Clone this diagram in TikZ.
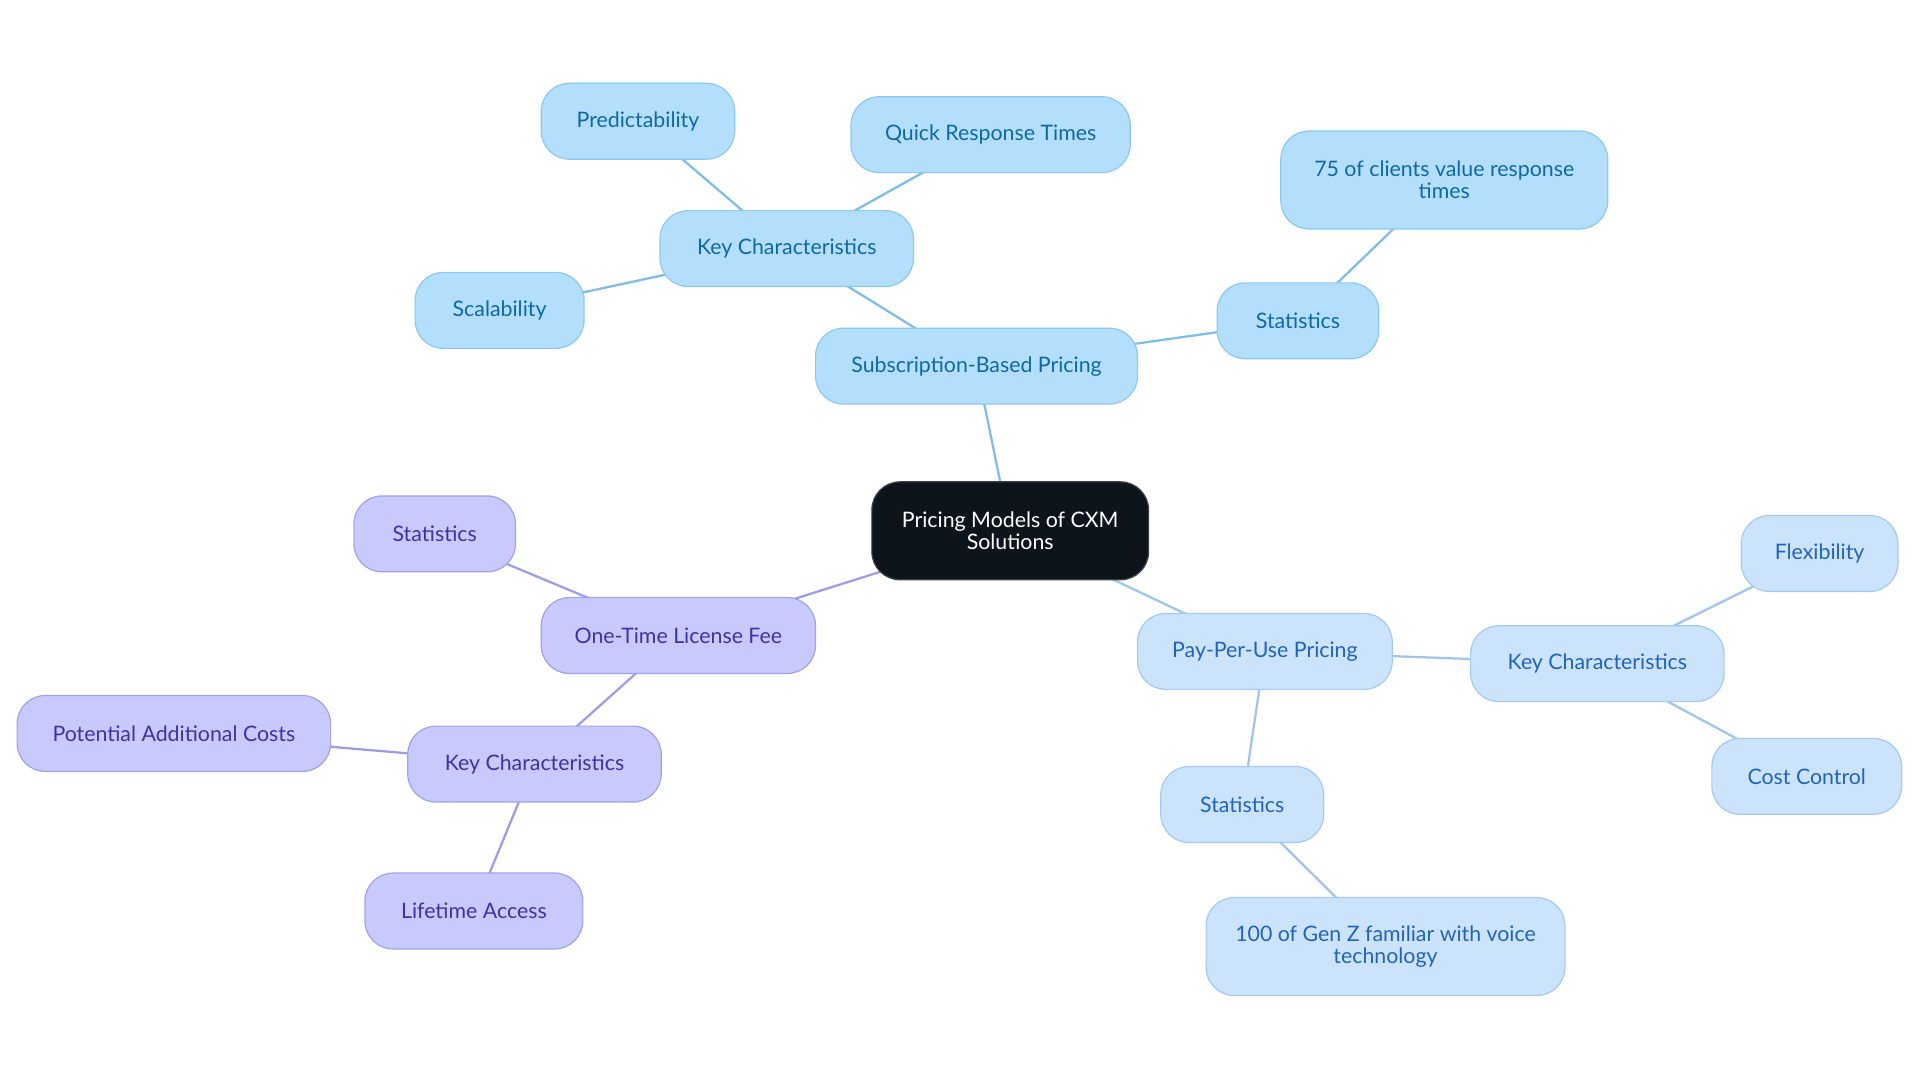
\documentclass[tikz,border=0pt]{standalone}
\usepackage{fontspec}
\setmainfont{Lato}
\usetikzlibrary{backgrounds}
\newlength\myu
\setlength\myu{0.9184pt}
\definecolor{subFill}{HTML}{B3DFFC}
\definecolor{subDraw}{HTML}{8CC8F0}
\definecolor{subText}{HTML}{0E68A8}
\definecolor{subEdge}{HTML}{7FBCE6}
\definecolor{payFill}{HTML}{CCE4FB}
\definecolor{payDraw}{HTML}{A5C9F0}
\definecolor{payText}{HTML}{2163BE}
\definecolor{payEdge}{HTML}{9FC5EC}
\definecolor{purFill}{HTML}{C8CAFD}
\definecolor{purDraw}{HTML}{A0A2EC}
\definecolor{purText}{HTML}{3B34A8}
\definecolor{purEdge}{HTML}{9D9DE6}
\definecolor{rootFill}{HTML}{0D141C}
\begin{document}
\begin{tikzpicture}[x=\myu,y=-\myu,
  box/.style={rectangle, rounded corners=23\myu, inner sep=0pt, line width=0.9pt,
    minimum height=62\myu, align=center,
    font=\fontsize{16}{16.5}\selectfont},
  tall/.style={minimum height=80\myu},
  sub/.style={box, fill=subFill, draw=subDraw, text=subText},
  pay/.style={box, fill=payFill, draw=payDraw, text=payText},
  pur/.style={box, fill=purFill, draw=purDraw, text=purText},
  root/.style={box, tall, fill=rootFill, draw=rootFill!80!white, text=white},
  subline/.style={draw=subEdge, line width=1.7pt},
  payline/.style={draw=payEdge, line width=1.7pt},
  purline/.style={draw=purEdge, line width=1.7pt}]
\useasboundingbox (0,0) rectangle (1568,884.4);
% root
\node[root, minimum width=226\myu] (root) at (825,433.5) {Pricing Models of CXM\\Solutions};
% subscription branch
\node[sub, minimum width=263\myu] (subs) at (797.5,299) {Subscription-Based Pricing};
\node[sub, minimum width=207\myu] (subkey) at (642.5,203) {Key Characteristics};
\node[sub, minimum width=158\myu] (pred) at (521,99) {Predictability};
\node[sub, minimum width=228\myu] (quick) at (809,110) {Quick Response Times};
\node[sub, minimum width=138\myu] (scal) at (408,253.5) {Scalability};
\node[sub, minimum width=132\myu] (substat) at (1060,262) {Statistics};
\node[sub, tall, minimum width=267\myu] (clients) at (1179.5,147) {75 of clients value response\\times};
% one-time branch
\node[pur, minimum width=224\myu] (once) at (554,519) {One-Time License Fee};
\node[pur, minimum width=132\myu] (purstat) at (355,436) {Statistics};
\node[pur, minimum width=207\myu] (purkey) at (436.5,624) {Key Characteristics};
\node[pur, minimum width=256\myu] (potential) at (142,599) {Potential Additional Costs};
\node[pur, minimum width=178\myu] (life) at (387,744) {Lifetime Access};
% pay-per-use branch
\node[pay, minimum width=208\myu] (payuse) at (1033,532) {Pay-Per-Use Pricing};
\node[pay, minimum width=207\myu] (paykey) at (1304.5,542) {Key Characteristics};
\node[pay, minimum width=128\myu] (flex) at (1486,452) {Flexibility};
\node[pay, minimum width=155\myu] (cost) at (1475.5,634) {Cost Control};
\node[pay, minimum width=133\myu] (paystat) at (1014.5,657) {Statistics};
\node[pay, tall, minimum width=293\myu] (genz) at (1131.5,773) {100 of Gen Z familiar with voice\\technology};
\begin{scope}[on background layer]
  \draw[subline] (root.center) -- (subs.center);
  \draw[subline] (subs.center) -- (subkey.center);
  \draw[subline] (subkey.center) -- (pred.center);
  \draw[subline] (subkey.center) -- (quick.center);
  \draw[subline] (subkey.center) -- (scal.center);
  \draw[subline] (subs.center) -- (substat.center);
  \draw[subline] (substat.center) -- (clients.center);
  \draw[purline] (root.center) -- (once.center);
  \draw[purline] (once.center) -- (purstat.center);
  \draw[purline] (once.center) -- (purkey.center);
  \draw[purline] (purkey.center) -- (potential.center);
  \draw[purline] (purkey.center) -- (life.center);
  \draw[payline] (root.center) -- (payuse.center);
  \draw[payline] (payuse.center) -- (paykey.center);
  \draw[payline] (paykey.center) -- (flex.center);
  \draw[payline] (paykey.center) -- (cost.center);
  \draw[payline] (payuse.center) -- (paystat.center);
  \draw[payline] (paystat.center) -- (genz.center);
\end{scope}
\end{tikzpicture}
\end{document}
